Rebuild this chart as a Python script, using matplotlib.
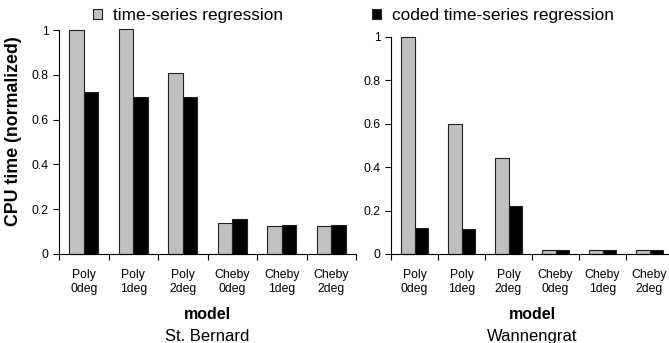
import numpy as np
from matplotlib import pyplot as plt
from matplotlib.patches import Patch

plt.rcParams["font.family"] = ["Liberation Sans", "DejaVu Sans"]

models = ["Poly\n0deg", "Poly\n1deg", "Poly\n2deg", "Cheby\n0deg", "Cheby\n1deg", "Cheby\n2deg"]

stb_plain = [1.0, 1.005, 0.81, 0.14, 0.123, 0.125]
stb_coded = [0.724, 0.703, 0.70, 0.158, 0.128, 0.128]

wan_plain = [1.0, 0.60, 0.443, 0.02, 0.02, 0.02]
wan_coded = [0.118, 0.115, 0.223, 0.018, 0.018, 0.018]

series_names = ["time-series regression", "coded time-series regression"]

GRAY = "#c0c0c0"
BLACK = "#000000"
EDGE = "#202020"
WIDTH = 0.29


def draw_panel(ax, plain, coded, title):
    """Draws one grouped bar panel in the old Excel look"""

    x = np.arange(len(models))
    ax.bar(x - WIDTH / 2, plain, WIDTH, color=GRAY, edgecolor=EDGE,
           linewidth=0.8, clip_on=False)
    ax.bar(x + WIDTH / 2, coded, WIDTH, color=BLACK, edgecolor=EDGE,
           linewidth=0.8, clip_on=False)

    ax.set_xlim(-0.5, len(models) - 0.5)
    ax.set_ylim(0, 1)
    ax.set_yticks([0, 0.2, 0.4, 0.6, 0.8, 1])
    ax.set_yticklabels(["0", "0.2", "0.4", "0.6", "0.8", "1"])

    ax.set_xticks(np.arange(len(models) + 1) - 0.5)
    ax.set_xticklabels([])
    ax.set_xticks(x, minor=True)
    ax.set_xticklabels(models, minor=True, fontsize=8.8, linespacing=1.2)
    ax.tick_params(axis="x", which="minor", length=0, pad=11)
    ax.tick_params(axis="x", which="major", length=4, width=0.8, direction="out")
    ax.tick_params(axis="y", length=4, width=0.8, labelsize=8.8, direction="out")

    for side in ["top", "right"]:
        ax.spines[side].set_visible(False)
    for side in ["left", "bottom"]:
        ax.spines[side].set_linewidth(0.8)

    ax.annotate("model", xy=(0.5, 0), xycoords="axes fraction",
                xytext=(0, -46.5), textcoords="offset points",
                ha="center", va="baseline", fontsize=11.5, fontweight="bold")
    ax.annotate(title, xy=(0.5, 0), xycoords="axes fraction",
                xytext=(0, -62.5), textcoords="offset points",
                ha="center", va="baseline", fontsize=12)


fig = plt.figure(figsize=(6.69, 3.43), dpi=100)
ax1 = fig.add_axes([0.0882, 0.2595, 0.444, 0.653])
ax2 = fig.add_axes([0.5845, 0.2595, 0.4215, 0.6335])

draw_panel(ax1, stb_plain, stb_coded, "St. Bernard")
draw_panel(ax2, wan_plain, wan_coded, "Wannengrat")

ax1.set_ylabel("CPU time (normalized)", fontsize=12.8, fontweight="bold")
ax1.yaxis.set_label_coords(-0.125, 0.55)

for colour, name, x0 in [(GRAY, series_names[0], 0.139), (BLACK, series_names[1], 0.556)]:
    handle = Patch(facecolor=colour, edgecolor=EDGE, linewidth=0.8)
    fig.legend([handle], [name], loc="center left", bbox_to_anchor=(x0, 0.955),
               frameon=False, fontsize=12.4, handlelength=0.55, handleheight=0.55,
               handletextpad=0.6, borderpad=0, borderaxespad=0)

plt.savefig("out.png", dpi=100)
